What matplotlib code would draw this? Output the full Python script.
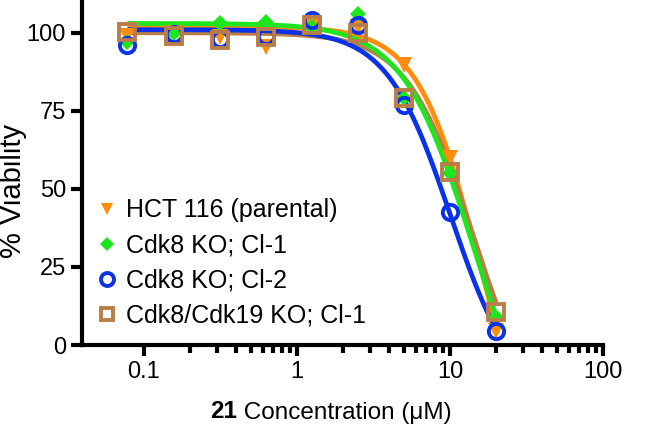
import numpy as np
import matplotlib
matplotlib.use("Agg")
import matplotlib.pyplot as plt
from matplotlib.ticker import FixedLocator, NullFormatter
from matplotlib.offsetbox import TextArea, HPacker, AnchoredOffsetbox

plt.rcParams['font.family'] = ['Liberation Sans', 'DejaVu Sans']

conc = [0.078, 0.156, 0.3125, 0.625, 1.25, 2.5, 5, 10, 20]

labels = ["HCT 116 (parental)", "Cdk8 KO; Cl-1", "Cdk8 KO; Cl-2", "Cdk8/Cdk19 KO; Cl-1"]
hct116 = [99, 100, 98.5, 95.5, 102, 102, 89.7, 60, 4.5]
cdk8_cl1 = [97, 100, 103, 103.5, 102, 106, 79, 55, 9]
cdk8_cl2 = [96.2, 99.5, 98, 99, 104, 102.5, 77, 42.7, 4.5]
cdk8_19 = [100.3, 99, 97.8, 98.7, 102.6, 100, 79, 55.5, 10.6]

# 4-parameter logistic fit parameters: top, bottom, IC50, hill
fit_top = [102, 103, 101, 100]
fit_bottom = [-50, -40, -18, -30]
fit_ic50 = [15.6, 14.2, 10.08, 14.2]
fit_hill = [2.15, 1.87, 2.08, 2.0]

x_major = [0.1, 1, 10, 100]
x_major_labels = ["0.1", "1", "10", "100"]
y_ticks = [0, 25, 50, 75, 100]

colors = ["#FF8C0A", "#1EE61E", "#0A32EB", "#B97E48"]
markers = ["v", "D", "o", "s"]
series = [hct116, cdk8_cl1, cdk8_cl2, cdk8_19]

fig = plt.figure(figsize=(6.61, 4.30), dpi=100)
ax = fig.add_axes([82/661, 1-345/430, (603-82)/661, 345/430])

xs = np.logspace(np.log10(conc[0]), np.log10(conc[-1]), 300)
line_order = [0, 3, 2, 1]
for i in line_order:
    y = fit_bottom[i] + (fit_top[i]-fit_bottom[i])/(1+(xs/fit_ic50[i])**fit_hill[i])
    ax.plot(xs, y, color=colors[i], lw=3.4, zorder=2, solid_capstyle='butt')

handles = []
for i in range(4):
    if markers[i] in ("o", "s"):
        h = ax.plot(conc, series[i], ls='none', marker=markers[i], ms=11,
                    mfc='none', mec=colors[i], mew=2.8, zorder=3, label=labels[i])[0]
    else:
        h = ax.plot(conc, series[i], ls='none', marker=markers[i], ms=11 if markers[i]=="v" else 8,
                    mfc=colors[i], mec=colors[i], mew=0, zorder=3, label=labels[i])[0]
    handles.append(h)

ax.set_xscale('log')
ax.set_xlim(10**-1.405, 100)
ax.set_ylim(0, 110.5)
ax.yaxis.set_major_locator(FixedLocator(y_ticks))
ax.xaxis.set_major_locator(FixedLocator(x_major))
ax.set_xticklabels(x_major_labels)
minor = [m*d for d in [0.1, 1, 10] for m in range(2, 10)]
ax.xaxis.set_minor_locator(FixedLocator(minor))
ax.xaxis.set_minor_formatter(NullFormatter())

for s in ['top', 'right']:
    ax.spines[s].set_visible(False)
for s in ['left', 'bottom']:
    ax.spines[s].set_linewidth(3)
ax.tick_params(axis='both', which='major', length=8, width=3, labelsize=17, direction='out')
ax.tick_params(axis='x', which='minor', length=5.5, width=3, direction='out')

fig.text(13/661, 1-191/430, "% Viability", fontsize=21, rotation=90, ha='center', va='center')

t1 = TextArea("21", textprops=dict(fontsize=17.5, fontweight='bold'))
t2 = TextArea(" Concentration (\u03bcM)", textprops=dict(fontsize=17.5))
box = HPacker(children=[t1, t2], align="baseline", pad=0, sep=0)
ab = AnchoredOffsetbox(loc='center', child=box, frameon=False,
                       bbox_to_anchor=(331/661, 1-412/430), bbox_transform=fig.transFigure, pad=0, borderpad=0)
fig.add_artist(ab)

leg = ax.legend(handles=handles, loc='lower left', bbox_to_anchor=(94/661, 1-328/430),
                bbox_transform=fig.transFigure, frameon=False, fontsize=18, markerscale=0.85,
                handlelength=1.0, handletextpad=0.3, labelspacing=0.45, borderpad=0, borderaxespad=0)

fig.savefig("out.png", dpi=100)
